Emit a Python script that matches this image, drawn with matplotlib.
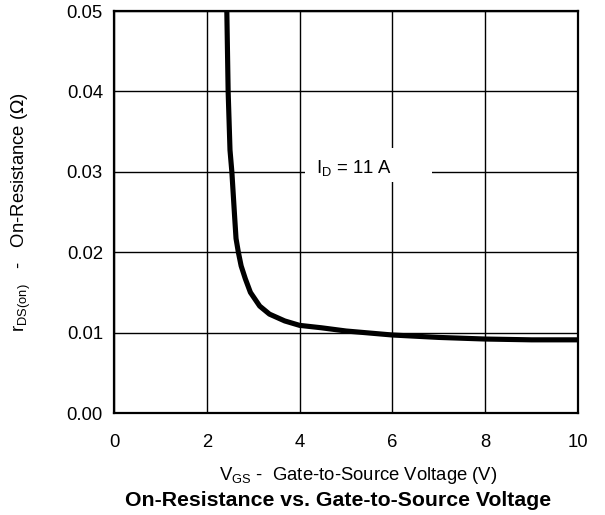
import matplotlib
matplotlib.use("Agg")
import matplotlib.pyplot as plt
from matplotlib.patches import Rectangle

plt.rcParams['font.family'] = ['Liberation Sans', 'DejaVu Sans']

vgs = [2.43, 2.46, 2.50, 2.54, 2.60, 2.63, 2.68, 2.74, 2.83, 2.94, 3.14, 3.35, 3.68, 4.0, 4.47, 5.0, 6.0, 7.0, 8.0, 9.0, 10.0]
rds = [0.0505, 0.040, 0.0327, 0.030, 0.0244, 0.0217, 0.0200, 0.0183, 0.0167, 0.0150, 0.0133, 0.0123, 0.01145, 0.0109, 0.0106, 0.0102, 0.0097, 0.0094, 0.0092, 0.0091, 0.0091]
xticks = [0, 2, 4, 6, 8, 10]
yticks = [0.00, 0.01, 0.02, 0.03, 0.04, 0.05]
ytick_labels = ['0.00', '0.01', '0.02', '0.03', '0.04', '0.05']

fig = plt.figure(figsize=(6.05, 5.15), dpi=100)
ax = fig.add_axes([114/605, 1-413/515, (578-114)/605, (413-11)/515])
ax.set_xlim(0, 10)
ax.set_ylim(0, 0.05)
ax.set_xticks(xticks)
ax.set_xticklabels([str(v) for v in xticks])
ax.set_yticks(yticks)
ax.set_yticklabels(ytick_labels)
ax.tick_params(axis='both', length=0, labelsize=13.3)
ax.tick_params(axis='x', pad=15)
ax.tick_params(axis='y', pad=8)
ax.grid(True, color='black', linewidth=1.0)
ax.set_axisbelow(True)
for s in ax.spines.values():
    s.set_linewidth(1.6)
    s.set_color('black')
    s.set_zorder(5)

ax.plot(vgs, rds, color='black', linewidth=3.7, solid_joinstyle='round', solid_capstyle='butt', zorder=4)

ax.add_patch(Rectangle((4.11, 0.0287), 2.75, 0.0043, facecolor='white', edgecolor='none', zorder=2))
ax.text(5.17, 0.0305, r'I$_\mathregular{D}$ = 11 A', fontsize=13.3, ha='center', va='center', zorder=3)

fig.text(358/605, 1-475/515, r'V$_\mathregular{GS}$ -  Gate-to-Source Voltage (V)', fontsize=13.3, ha='center', va='center')
fig.text(338/605, 1-501/515, 'On-Resistance vs. Gate-to-Source Voltage', fontsize=15.3, fontweight='bold', ha='center', va='center')
fig.text(21/605, 1-212/515, r'r$_\mathregular{DS(on)}$   -   On-Resistance ($\Omega$)', fontsize=13.3, rotation=90, ha='center', va='center')

fig.savefig('out.png', dpi=100, facecolor='white')
